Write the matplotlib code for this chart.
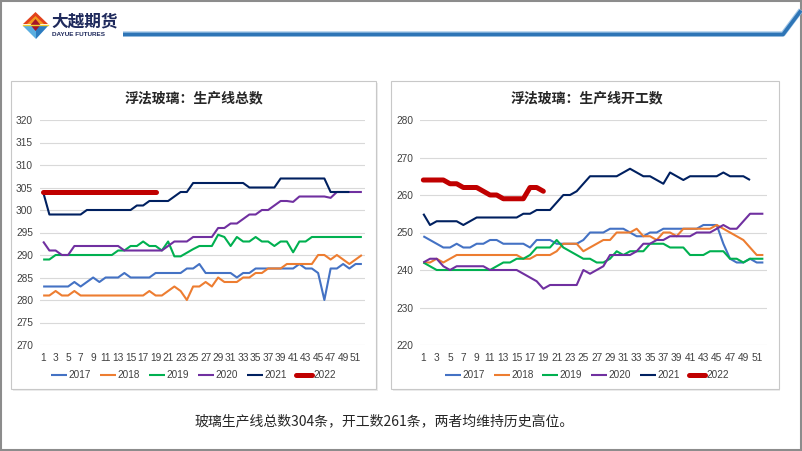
import matplotlib.pyplot as plt
from matplotlib.patches import Rectangle, Polygon

W, H = 802, 451

weeks = list(range(1, 53))
years = ['2017', '2018', '2019', '2020', '2021', '2022']
colors = ['#4472C4', '#ED7D31', '#00B050', '#7030A0', '#002060', '#C00000']

# 生产线总数
total_2017 = [283, 283, 283, 283, 283, 284, 283, 284, 285, 284, 285, 285, 285, 286, 285, 285, 285, 285,
              286, 286, 286, 286, 286, 287, 287, 288, 286, 286, 286, 286, 286, 285, 286, 286, 287, 287,
              287, 287, 287, 287, 287, 288, 287, 287, 286, 280, 287, 287, 288, 287, 288, 288]
total_2018 = [281, 281, 282, 281, 281, 282, 281, 281, 281, 281, 281, 281, 281, 281, 281, 281, 281, 282,
              281, 281, 282, 283, 282, 280, 283, 283, 284, 283, 285, 284, 284, 284, 285, 285, 286, 286,
              287, 287, 287, 288, 288, 288, 288, 288, 290, 290, 289, 290, 289, 288, 289, 290]
total_2019 = [289, 289, 290, 290, 290, 290, 290, 290, 290, 290, 290, 290, 291, 291, 292, 292, 293, 292,
              292, 291, 293, 289.7, 289.7, 290.5, 291.3, 292, 292, 292, 294.5, 294, 292, 294, 293, 293, 294, 293,
              293, 292, 293, 293, 290.6, 293, 293, 294, 294, 294, 294, 294, 294, 294, 294, 294]
total_2020 = [293, 291, 291, 290, 290, 292, 292, 292, 292, 292, 292, 292, 292, 291, 291, 291, 291, 291,
              291, 291, 292, 293, 293, 293, 294, 294, 294, 294, 296, 296, 297, 297, 298, 299, 299, 300,
              300, 301, 302, 302, 301.8, 303, 303, 303, 303, 303, 302.7, 304, 304, 304, 304, 304]
total_2021 = [304, 299, 299, 299, 299, 299, 299, 300, 300, 300, 300, 300, 300, 300, 300, 301, 301, 302,
              302, 302, 302, 303, 304, 304, 306, 306, 306, 306, 306, 306, 306, 306, 306, 305, 305, 305,
              305, 305, 307, 307, 307, 307, 307, 307, 307, 307, 304, 304, 304, 304]
total_2022 = [304] * 19

# 生产线开工数
run_2017 = [249, 248, 247, 246, 246, 247, 246, 246, 247, 247, 248, 248, 247, 247, 247, 247, 246, 248,
            248, 248, 247, 247, 247, 247, 248, 250, 250, 250, 251, 251, 251, 250, 249, 249, 250, 250,
            251, 251, 251, 251, 251, 251, 252, 252, 252, 247, 243, 242, 242, 243, 242, 242]
run_2018 = [242, 242, 243, 242, 243, 244, 244, 244, 244, 244, 244, 244, 244, 244, 244, 243, 243, 244,
            244, 244, 245, 247, 247, 247, 245, 246, 247, 248, 248, 250, 250, 250, 251, 249, 249, 248,
            250, 250, 249, 251, 251, 251, 251, 251, 252, 251, 250, 249, 248, 246, 244, 244]
run_2019 = [242, 241, 240, 240, 240, 240, 240, 240, 240, 240, 240, 241, 242, 242, 243, 243, 244, 246,
            246, 246, 248, 246, 245, 244, 243, 243, 242, 242, 243, 245, 244, 245, 245, 245, 247, 247,
            247, 246, 246, 246, 244, 244, 244, 245, 245, 245, 243, 243, 242, 243, 243, 243]
run_2020 = [242, 243, 243, 241, 240, 241, 241, 241, 241, 241, 240, 240, 240, 240, 240, 239, 238, 237,
            235, 236, 236, 236, 236, 236, 240, 239, 240, 241, 244, 244, 244, 244, 245, 247, 247, 248,
            248, 249, 249, 249, 249, 250, 250, 250, 251, 252, 251, 251, 253, 255, 255, 255]
run_2021 = [255, 252, 253, 253, 253, 253, 252, 253, 254, 254, 254, 254, 254, 254, 254, 255, 255, 256,
            256, 256, 258, 260, 260, 261, 263, 265, 265, 265, 265, 265, 266, 267, 266, 265, 265, 264,
            263, 266, 265, 264, 265, 265, 265, 265, 265, 266, 265, 265, 265, 264]
run_2022 = [264, 264, 264, 264, 263, 263, 262, 262, 262, 261, 260, 260, 259, 259, 259, 259, 262, 262, 261]

total_series = [total_2017, total_2018, total_2019, total_2020, total_2021, total_2022]
run_series = [run_2017, run_2018, run_2019, run_2020, run_2021, run_2022]

title_left = '浮法玻璃：生产线总数'
title_right = '浮法玻璃：生产线开工数'
note = '玻璃生产线总数304条，开工数261条，两者均维持历史高位。'

CJK = ['Noto Sans CJK SC', 'DejaVu Sans']
plt.rcParams['font.family'] = ['Liberation Sans', 'DejaVu Sans']


def fx(x):
    return x / W


def fy(y):
    return 1 - y / H


fig = plt.figure(figsize=(W / 100, H / 100), dpi=100)

# background decoration in pixel coordinates
bg = fig.add_axes([0, 0, 1, 1], zorder=-1)
bg.set_xlim(0, W)
bg.set_ylim(H, 0)
bg.axis('off')
bg.add_patch(Rectangle((0.8, 0.8), W - 1.6, H - 1.6, fill=False, ec='#8C8C8C', lw=1.5))
for x0, x1 in [(11, 376), (391, 778.5)]:
    bg.add_patch(Rectangle((x0 + 1.5, 82.5), x1 - x0, 308, fc='#EDEDED', ec='none'))
    bg.add_patch(Rectangle((x0, 81), x1 - x0, 308, fc='white', ec='#C8C8C8', lw=0.8))

# header line
bg.plot([123, 783, 801], [34, 34, 10], color='#9DC3E6', lw=3.8, solid_capstyle='butt')
bg.plot([123, 783, 801], [34.5, 34.5, 10.5], color='#2E75B6', lw=2.6, solid_capstyle='butt')

# logo
bg.add_patch(Polygon([(35.5, 12), (23, 24), (48, 24)], closed=True, fc='#E2421C', ec='none'))
bg.add_patch(Polygon([(35.5, 16), (27, 24), (44, 24)], closed=True, fc='#F39A1E', ec='none'))
bg.add_patch(Polygon([(23, 26), (35.5, 26), (35.5, 39)], closed=True, fc='#5AAEE0', ec='none'))
bg.add_patch(Polygon([(48, 26), (35.5, 26), (35.5, 39)], closed=True, fc='#2C7CC0', ec='none'))
bg.add_patch(Polygon([(35.5, 19), (30.5, 25), (35.5, 31), (40.5, 25)], closed=True, fc='#A3162A', ec='none'))
bg.plot([23, 48], [25, 25], color='#F2D230', lw=1)
bg.text(51, 21, '大越期货', fontsize=12, fontweight='bold', color='#1F2A5C',
        family=CJK, va='center', ha='left')
bg.text(52, 35, 'DAYUE FUTURES', fontsize=4.6, fontweight='bold', color='#1F2A5C',
        va='center', ha='left')


def draw_panel(rect, series, ylim, step, title, cx):
    ax = fig.add_axes(rect)
    ax.set_facecolor('none')
    for i, (vals, name) in enumerate(zip(series, years)):
        lw = 3.6 if name == '2022' else 1.5
        ax.plot(weeks[:len(vals)], vals, color=colors[i], lw=lw, label=name,
                solid_joinstyle='round', solid_capstyle='round' if name == '2022' else 'butt')
    ax.set_xlim(0.5, 52.5)
    ax.set_ylim(*ylim)
    ax.set_yticks(range(ylim[0], ylim[1] + 1, step))
    ax.set_xticks(weeks[::2])
    ax.grid(axis='y', color='#D9D9D9', lw=0.8)
    ax.set_axisbelow(True)
    for s in ax.spines.values():
        s.set_visible(False)
    ax.tick_params(length=0, labelsize=7.3, colors='#404040')
    ax.tick_params(axis='x', pad=6)
    ax.tick_params(axis='y', pad=5)
    fig.text(fx(cx), fy(98), title, fontsize=10, fontweight='bold', family=CJK,
             ha='center', va='center', color='#262626')
    fig.legend(*ax.get_legend_handles_labels(), loc='center', bbox_to_anchor=(fx(cx), fy(375)),
               ncol=6, frameon=False, fontsize=7.2, handlelength=1.6, handletextpad=0.15,
               columnspacing=0.9, labelcolor='#404040')
    return ax


bottom = fy(345)
top = fy(120)
draw_panel([fx(40), bottom, fx(365) - fx(40), top - bottom], total_series, (270, 320), 5,
           title_left, 193.5)
draw_panel([fx(420), bottom, fx(766.7) - fx(420), top - bottom], run_series, (220, 280), 10,
           title_right, 587)

fig.text(fx(384), fy(421), note, fontsize=10, family=CJK, ha='center', va='center', color='#262626')

fig.savefig('out.png', dpi=100)
